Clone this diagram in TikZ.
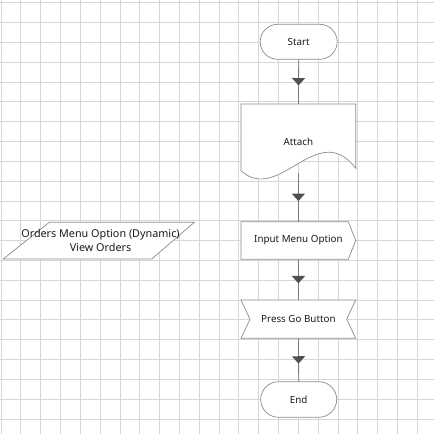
\documentclass[tikz,border=0pt]{standalone}
\usepackage{fontspec}
\setmainfont{Noto Sans}
\usetikzlibrary{shapes.misc,decorations.markings,arrows.meta}
\definecolor{gridc}{HTML}{D6D6D6}
\definecolor{edgec}{HTML}{8C8C8C}
\definecolor{linec}{HTML}{7A7A7A}
\definecolor{tipc}{HTML}{505050}
\definecolor{txtc}{HTML}{1A1A1A}
\tikzset{
  box/.style={draw=none, inner sep=0pt, font=\fontsize{9.8pt}{12pt}\selectfont, text=txtc, align=center},
  bigbox/.style={draw=none, inner sep=0pt, font=\fontsize{10.8pt}{14.4pt}\selectfont, text=txtc, align=center},
  term/.style={rounded rectangle, draw=edgec, line width=0.7pt, fill=white, inner sep=0pt, font=\fontsize{9.8pt}{12pt}\selectfont, text=txtc},
  outline/.style={draw=edgec, line width=0.7pt, fill=white, line join=miter},
  flow/.style={draw=linec, line width=0.8pt,
    postaction={decorate, decoration={markings, mark=at position 0.5 with {\fill[tipc] (3.7pt,0pt) -- (-3.7pt,6.6pt) -- (-3.7pt,-6.6pt) -- cycle;}}}},
}
\begin{document}
\begin{tikzpicture}[x=1pt,y=-1pt]
\useasboundingbox[fill=white] (0,0) rectangle (434,434);
% grid
\foreach \k in {0,...,21} {
  \draw[gridc, line width=0.6pt] ({0.9+19.82*\k},0) -- ({0.9+19.82*\k},434);
  \draw[gridc, line width=0.6pt] (0,{2.6+19.82*\k}) -- (434,{2.6+19.82*\k});
}
% shapes
\node[term, minimum width=77pt, minimum height=35pt] (start) at (298.7,41.8) {Start};
\node[term, minimum width=76pt, minimum height=35.6pt] (end) at (298.7,399.5) {End};

\draw[outline] (241,104) -- (355.7,104) -- (355.7,168.3) .. controls (317.5,118) and (279.2,205) .. (241,170.7) -- cycle;
\node[box, minimum width=114.7pt, minimum height=69pt] (attach) at (298.4,138.5) {};
\node[box] (attachtxt) at (298.4,141.7) {Attach};

\draw[outline] (241,221.7) -- (348.3,221.7) -- (355.7,240.5) -- (348.3,259.3) -- (241,259.3) -- cycle;
\node[box, minimum width=114.7pt, minimum height=37.6pt] (input) at (298.4,240.5) {Input Menu Option};

\draw[outline] (241,300) -- (355.7,300) -- (346.7,319.2) -- (355.7,338.3) -- (241,338.3) -- (250,319.2) -- cycle;
\node[box, minimum width=114.7pt, minimum height=38.3pt] (press) at (298.4,319.2) {Press Go Button};

\draw[outline] (49.3,222.3) -- (194.3,222.3) -- (151.7,259) -- (3.3,259) -- cycle;
\node[bigbox, minimum width=100pt, minimum height=36.7pt] (orders) at (100.5,240.6) {Orders Menu Option (Dynamic)\\View Orders};

% connectors
\draw[flow] (start.south) -- (attach.north);
\draw[flow] (attach.south) -- (input.north);
\draw[flow] (input.south) -- (press.north);
\draw[flow] (press.south) -- (end.north);
\end{tikzpicture}
\end{document}
